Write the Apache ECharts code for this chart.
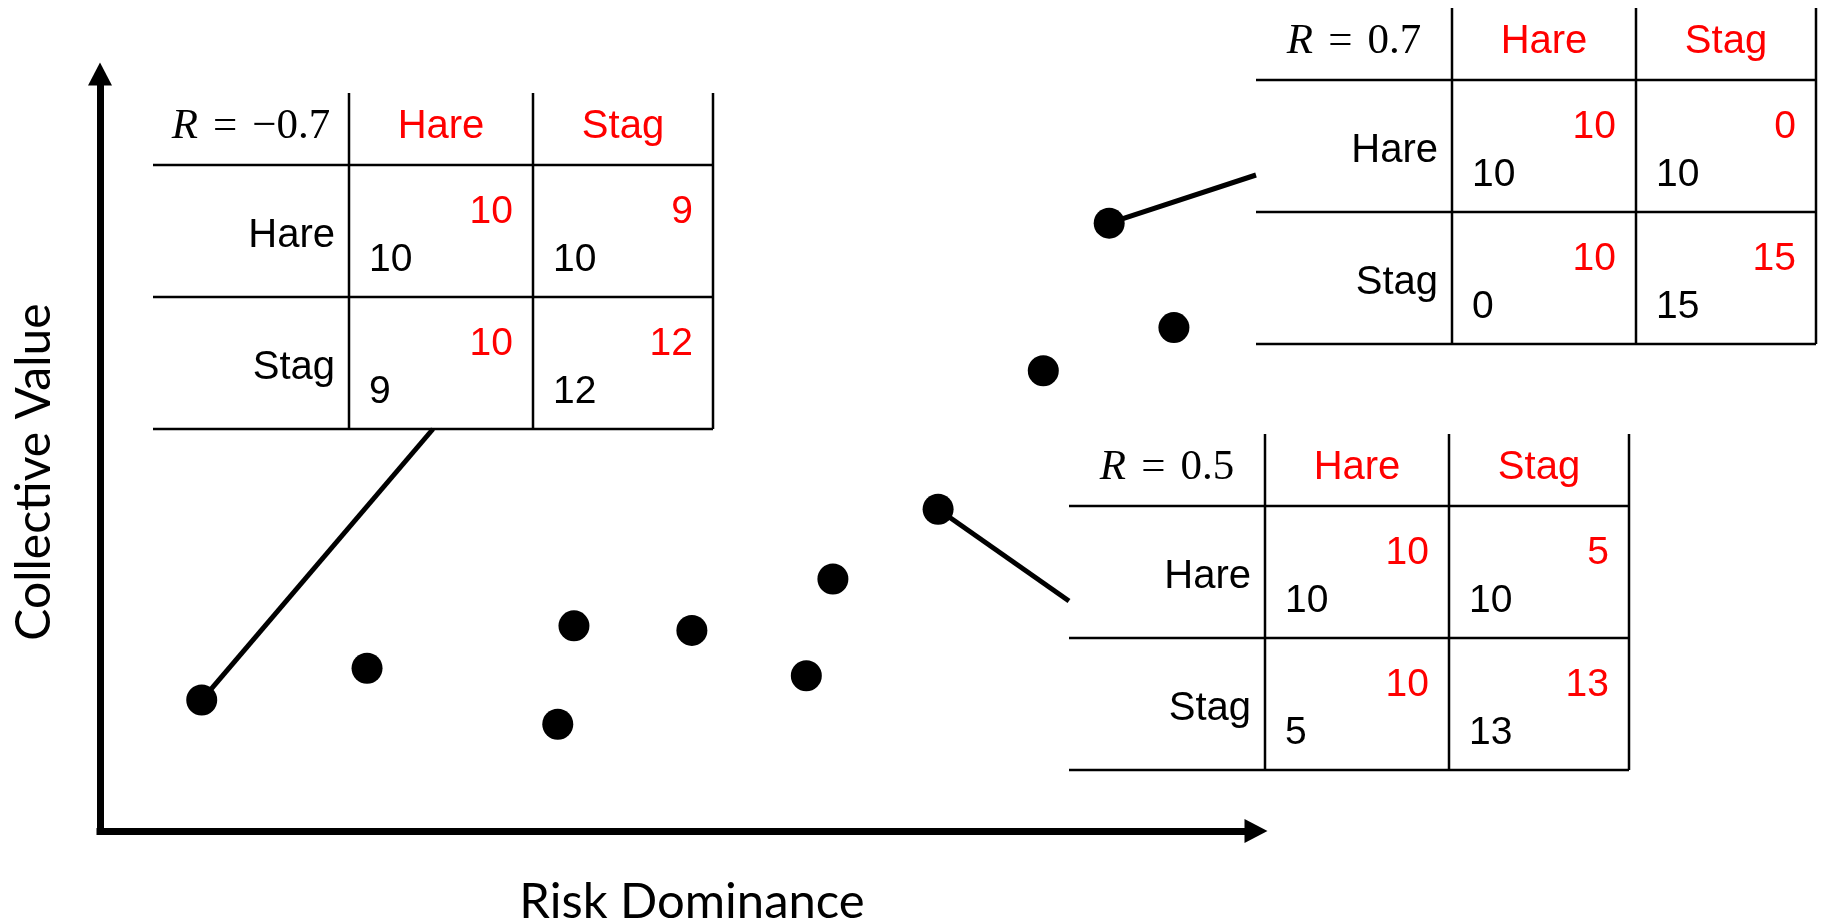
<!DOCTYPE html>
<html><head><meta charset="utf-8">
<script src="https://cdn.jsdelivr.net/npm/echarts@6/dist/echarts.min.js"></script>
<style>html,body{margin:0;padding:0;background:#fff}#main{width:1822px;height:924px}</style>
</head><body><div id="main"></div>
<script>
// ---------------- data ----------------
const riskDominance   = [8.8, 23.1, 39.6, 41.0, 51.2, 61.1, 63.4, 72.5, 81.6, 87.3, 92.9];
const collectiveValue = [17.3, 21.5, 14.1, 27.1, 26.5, 20.5, 33.3, 42.5, 60.8, 80.3, 66.5];
const strategies = ['Hare', 'Stag'];
const tableR = ['\u22120.7', '0.7', '0.5'];
// cells ordered: [Hare,Hare], [Hare,Stag], [Stag,Hare], [Stag,Stag]
const rowPlayerPayoffs = [[10, 10, 9, 12], [10, 10, 0, 15], [10, 10, 5, 13]];  // black
const colPlayerPayoffs = [[10, 9, 10, 12], [10, 0, 10, 15], [10, 5, 10, 13]];  // red
const tablePointIndex = [0, 9, 7];
const axisTitles = ['Risk Dominance', 'Collective Value'];

// ---------------- layout ----------------
const GRID = {left: 100, right: 566, top: 74, bottom: 93};
const tablePos = [[153, 93], [1256, 8], [1069, 434]];
const colW = [196, 184, 180];
const headH = 72, rowH = 132;
const linkAnchor = [[280, 336], [0, 167], [0, 167]];
const SANS = '"Liberation Sans", Arial, sans-serif';
const SERIF = '"Liberation Serif", "Times New Roman", serif';
const TITLE = 'Lato, "Open Sans", sans-serif';

function buildTable(t) {
  const W = colW[0] + colW[1] + colW[2], H = headH + 2 * rowH;
  const cx = [0, colW[0], colW[0] + colW[1], W];
  const children = [];
  const ln = (x1, y1, x2, y2) => children.push({type: 'line', shape: {x1, y1, x2, y2},
      style: {stroke: '#000', lineWidth: 2.5}});
  ln(cx[1], 0, cx[1], H); ln(cx[2], 0, cx[2], H); ln(W, 0, W, H);
  ln(0, headH, W, headH); ln(0, headH + rowH, W, headH + rowH); ln(0, H, W, H);
  const txt = (x, y, text, align, fill, size) => children.push({type: 'text', x, y,
      style: {text, align, verticalAlign: 'middle', fill, fontSize: size, fontFamily: SANS}});
  children.push({type: 'text', x: colW[0] / 2, y: 34, style: {
    text: '{i|R}{s| }{n|=}{s| }{n|' + tableR[t] + '}', align: 'center', verticalAlign: 'middle',
    rich: {
      i: {fontFamily: SERIF, fontStyle: 'italic', fontSize: 43, fill: '#000'},
      n: {fontFamily: SERIF, fontSize: 43, fill: '#000'},
      s: {fontFamily: SERIF, fontSize: 43, width: 15}
    }}});
  strategies.forEach((s, j) => txt(cx[j + 1] + colW[j + 1] / 2, 34, s, 'center', '#ff0000', 40));
  strategies.forEach((s, r) => {
    const top = headH + r * rowH;
    txt(colW[0] - 14, top + 71, s, 'right', '#000', 40);
    for (let c = 0; c < 2; c++) {
      const k = r * 2 + c;
      txt(cx[c + 2] - 20, top + 47, String(colPlayerPayoffs[t][k]), 'right', '#ff0000', 39);
      txt(cx[c + 1] + 20, top + 95, String(rowPlayerPayoffs[t][k]), 'left', '#000', 39);
    }
  });
  return {type: 'group', x: tablePos[t][0], y: tablePos[t][1], children};
}

const graphics = tableR.map((_, t) => buildTable(t));
graphics.push({type: 'text', x: 692, y: 902, style: {text: axisTitles[0], fontSize: 49, fontFamily: TITLE,
  align: 'center', verticalAlign: 'middle', fill: '#000'}});
graphics.push({type: 'text', x: 35, y: 472, rotation: Math.PI / 2, style: {text: axisTitles[1], fontSize: 48,
  fontFamily: TITLE, align: 'center', verticalAlign: 'middle', fill: '#000'}});

const axisLine = {show: true, onZero: false, symbol: ['none', 'triangle'], symbolSize: [24, 23],
  lineStyle: {color: '#000', width: 7, cap: 'square'}};

const chart = echarts.init(document.getElementById('main'), null, {renderer: 'canvas'});
chart.setOption({
  animation: false,
  backgroundColor: '#fff',
  grid: GRID,
  xAxis: {type: 'value', min: 0, max: 100, axisLine, axisTick: {show: false},
    axisLabel: {show: false}, splitLine: {show: false}},
  yAxis: {type: 'value', min: 0, max: 100, axisLine, axisTick: {show: false},
    axisLabel: {show: false}, splitLine: {show: false}},
  graphic: graphics,
  series: [
    {
      type: 'custom', coordinateSystem: 'cartesian2d', silent: true, z: 2, clip: false,
      data: tablePointIndex.map(i => [riskDominance[i], collectiveValue[i]]),
      renderItem: (params, api) => {
        const p = api.coord([api.value(0), api.value(1)]);
        const t = params.dataIndex;
        return {type: 'line', shape: {x1: p[0], y1: p[1],
            x2: tablePos[t][0] + linkAnchor[t][0], y2: tablePos[t][1] + linkAnchor[t][1]},
          style: {stroke: '#000', lineWidth: 5}};
      }
    },
    {
      type: 'scatter', z: 3, symbolSize: 31, itemStyle: {color: '#000', opacity: 1},
      emphasis: {disabled: true},
      data: riskDominance.map((x, i) => [x, collectiveValue[i]])
    }
  ]
});
</script></body></html>
